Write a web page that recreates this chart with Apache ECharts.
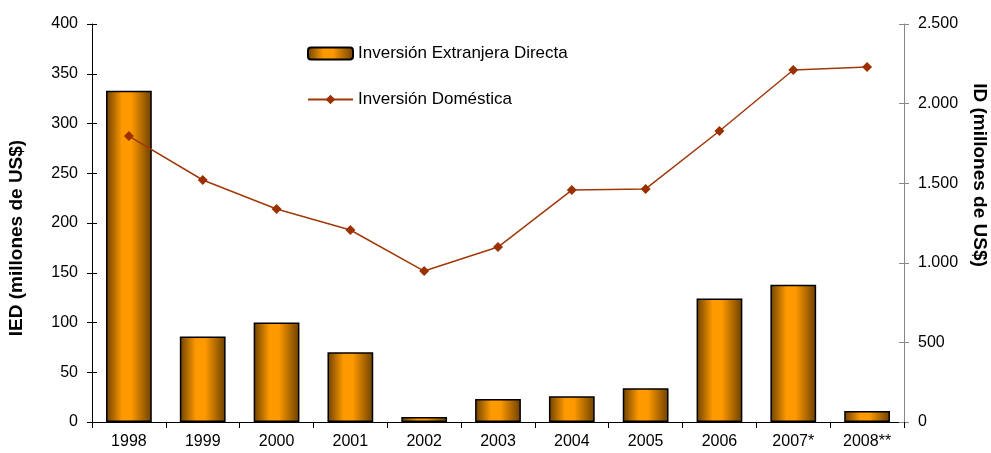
<!DOCTYPE html>
<html>
<head>
<meta charset="utf-8">
<script src="https://cdn.jsdelivr.net/npm/echarts@6/dist/echarts.min.js"></script>
<style>
  html, body { margin: 0; padding: 0; background: #fff; }
  #chart { width: 991px; height: 453px; }
</style>
</head>
<body>
<div id="chart"></div>
<script>
var years = ['1998', '1999', '2000', '2001', '2002', '2003', '2004', '2005', '2006', '2007*', '2008**']
var ied = [333, 86, 100, 70, 5, 23, 26, 34, 124, 138, 11]
var idom = [1796, 1520, 1338, 1206, 948, 1099, 1457, 1464, 1828, 2211, 2230]

var font = 'Liberation Sans, Arial, sans-serif'

var barFill = new echarts.graphic.LinearGradient(0, 0, 1, 0, [
  { offset: 0, color: '#6b4000' },
  { offset: 0.35, color: '#ff9900' },
  { offset: 0.55, color: '#ff9900' },
  { offset: 1, color: '#6b4000' }
])

function thousands(v) {
  return String(v).replace(/\B(?=(\d{3})+(?!\d))/g, '.')
}

var chart = echarts.init(document.getElementById('chart'))
chart.setOption({
  animation: false,
  grid: { left: 92, right: 87, top: 24, bottom: 31, containLabel: false, outerBoundsMode: 'none' },
  legend: {
    orient: 'vertical',
    left: 302,
    top: 40,
    itemGap: 29,
    itemWidth: 45,
    itemHeight: 12,
    textStyle: { fontFamily: font, fontSize: 17, color: '#000' },
    data: [
      { name: 'Inversión Extranjera Directa' },
      { name: 'Inversión Doméstica' }
    ]
  },
  xAxis: {
    type: 'category',
    data: years,
    axisLine: { lineStyle: { color: '#000', width: 1 } },
    axisTick: { show: true, length: 6, lineStyle: { color: '#000' } },
    axisLabel: { fontFamily: font, fontSize: 16, color: '#000', margin: 12 }
  },
  yAxis: [
    {
      type: 'value',
      min: 0,
      max: 400,
      interval: 50,
      name: 'IED (millones de US$)',
      nameLocation: 'middle',
      nameGap: 66,
      nameTextStyle: {
        fontFamily: font, fontSize: 19, fontWeight: 'bold', color: '#000',
        padding: [0, 30, 0, 0]
      },
      axisLine: { show: true, lineStyle: { color: '#000' } },
      axisTick: { show: true, length: 5, lineStyle: { color: '#000' } },
      axisLabel: { fontFamily: font, fontSize: 16, color: '#000', margin: 14 },
      splitLine: { show: false }
    },
    {
      type: 'value',
      min: 0,
      max: 2500,
      interval: 500,
      position: 'right',
      name: 'ID (millones de US$)',
      nameLocation: 'middle',
      nameGap: 66,
      nameRotate: -90,
      nameTextStyle: {
        fontFamily: font, fontSize: 19, fontWeight: 'bold', color: '#000',
        padding: [0, 96, 0, 0]
      },
      axisLine: { show: true, lineStyle: { color: '#888' } },
      axisTick: { show: true, length: 5, lineStyle: { color: '#888' } },
      axisLabel: { fontFamily: font, fontSize: 16, color: '#000', margin: 14, formatter: thousands },
      splitLine: { show: false }
    },
    {
      // inner half of the crossing ticks on the left axis
      type: 'value',
      min: 0,
      max: 400,
      interval: 50,
      position: 'left',
      axisLine: { show: false },
      axisTick: { show: true, inside: true, length: 5, lineStyle: { color: '#000' } },
      axisLabel: { show: false },
      splitLine: { show: false }
    },
    {
      // inner half of the crossing ticks on the right axis
      type: 'value',
      min: 0,
      max: 2500,
      interval: 500,
      position: 'right',
      axisLine: { show: false },
      axisTick: { show: true, inside: true, length: 5, lineStyle: { color: '#888' } },
      axisLabel: { show: false },
      splitLine: { show: false }
    }
  ],
  series: [
    {
      name: 'Inversión Extranjera Directa',
      type: 'bar',
      yAxisIndex: 0,
      barWidth: '62%',
      data: ied,
      itemStyle: { color: barFill, borderColor: '#000', borderWidth: 1.5 }
    },
    {
      name: 'Inversión Doméstica',
      type: 'line',
      yAxisIndex: 1,
      data: idom,
      symbol: 'diamond',
      symbolSize: 10,
      lineStyle: { color: '#a0390a', width: 1.5 },
      itemStyle: { color: '#9c3000' }
    }
  ]
})
</script>
</body>
</html>
